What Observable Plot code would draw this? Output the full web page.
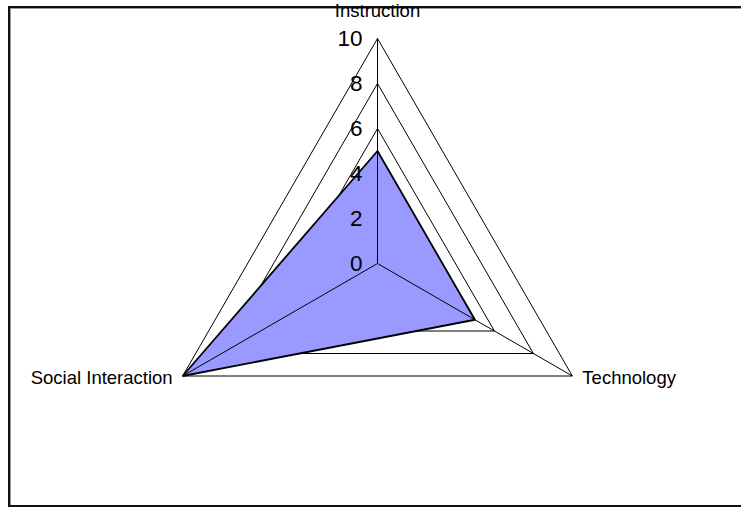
<!DOCTYPE html>
<html>
<head>
<meta charset="utf-8">
<script src="https://cdn.jsdelivr.net/npm/d3@7"></script>
<script src="https://cdn.jsdelivr.net/npm/@observablehq/plot@0.6"></script>
<style>
  html, body { margin: 0; padding: 0; background: #fff; }
  #wrap { position: relative; width: 741px; height: 508px; overflow: hidden; }
  #border {
    position: absolute; left: 8px; top: 6px; width: 760px; height: 497px;
    border-left: 2px solid #111; border-top: 2px solid #111; border-bottom: 2px solid #111;
    box-shadow: inset 1px 1px 0 #999;
  }
  #chart { position: absolute; left: 0; top: 0; }
  #chart svg { background: transparent; overflow: visible; }
</style>
</head>
<body>
<div id="wrap">
  <div id="border"></div>
  <div id="chart"></div>
</div>
<script>
// Radar chart: three criteria, values on a 0–10 scale
const categories = ["Instruction", "Technology", "Social Interaction"];
const values = [5, 5, 10];
const ticks = [0, 2, 4, 6, 8, 10];
const maxValue = 10;

const n = categories.length;
const angle = i => (2 * Math.PI * i) / n;          // clockwise from top
const px = (v, i) => v * Math.sin(angle(i));
const py = (v, i) => v * Math.cos(angle(i));

// closed polygon for every grid level
const rings = ticks.filter(t => t > 0).flatMap(t =>
  d3.range(n + 1).map(j => ({level: t, x: px(t, j % n), y: py(t, j % n)}))
);
// closed data polygon
const series = d3.range(n + 1).map(j => ({x: px(values[j % n], j % n), y: py(values[j % n], j % n)}));
// spokes from the centre to each outer vertex
const spokes = categories.map((c, i) => ({x2: px(maxValue, i), y2: py(maxValue, i)}));
const labels = categories.map((c, i) => ({name: c, x: px(maxValue, i), y: py(maxValue, i), i}));

const W = 741, H = 508, cx = 377, cy = 263, unit = 22.5;
const font = "'Liberation Sans', Arial, Helvetica, sans-serif";

const chart = Plot.plot({
  width: W,
  height: H,
  margin: 0,
  style: {fontFamily: font, background: "transparent", color: "#000"},
  x: {domain: [-cx / unit, (W - cx) / unit], axis: null},
  y: {domain: [-(H - cy) / unit, cy / unit], axis: null},
  marks: [
    Plot.line(rings, {x: "x", y: "y", z: "level", stroke: "#000", strokeWidth: 1}),
    Plot.line(series, {x: "x", y: "y", fill: "#9999ff", stroke: "#000", strokeWidth: 1.8, strokeLinejoin: "miter"}),
    Plot.link(spokes, {x1: 0, y1: 0, x2: "x2", y2: "y2", stroke: "#000", strokeWidth: 1}),
    Plot.text(ticks, {x: 0, y: d => d, text: d => String(d), textAnchor: "end", lineAnchor: "middle", dx: -15, fontSize: 22.5, fill: "#000"}),
    Plot.text(labels.filter(d => d.i === 0), {x: "x", y: "y", text: "name", textAnchor: "middle", lineAnchor: "middle", dy: -27, fontSize: 18.5, fill: "#000"}),
    Plot.text(labels.filter(d => d.i === 1), {x: "x", y: "y", text: "name", textAnchor: "start", lineAnchor: "middle", dx: 10, dy: 2, fontSize: 18.5, fill: "#000"}),
    Plot.text(labels.filter(d => d.i === 2), {x: "x", y: "y", text: "name", textAnchor: "end", lineAnchor: "middle", dx: -10, dy: 2, fontSize: 18.5, fill: "#000"})
  ]
});
document.getElementById("chart").appendChild(chart);
</script>
</body>
</html>
